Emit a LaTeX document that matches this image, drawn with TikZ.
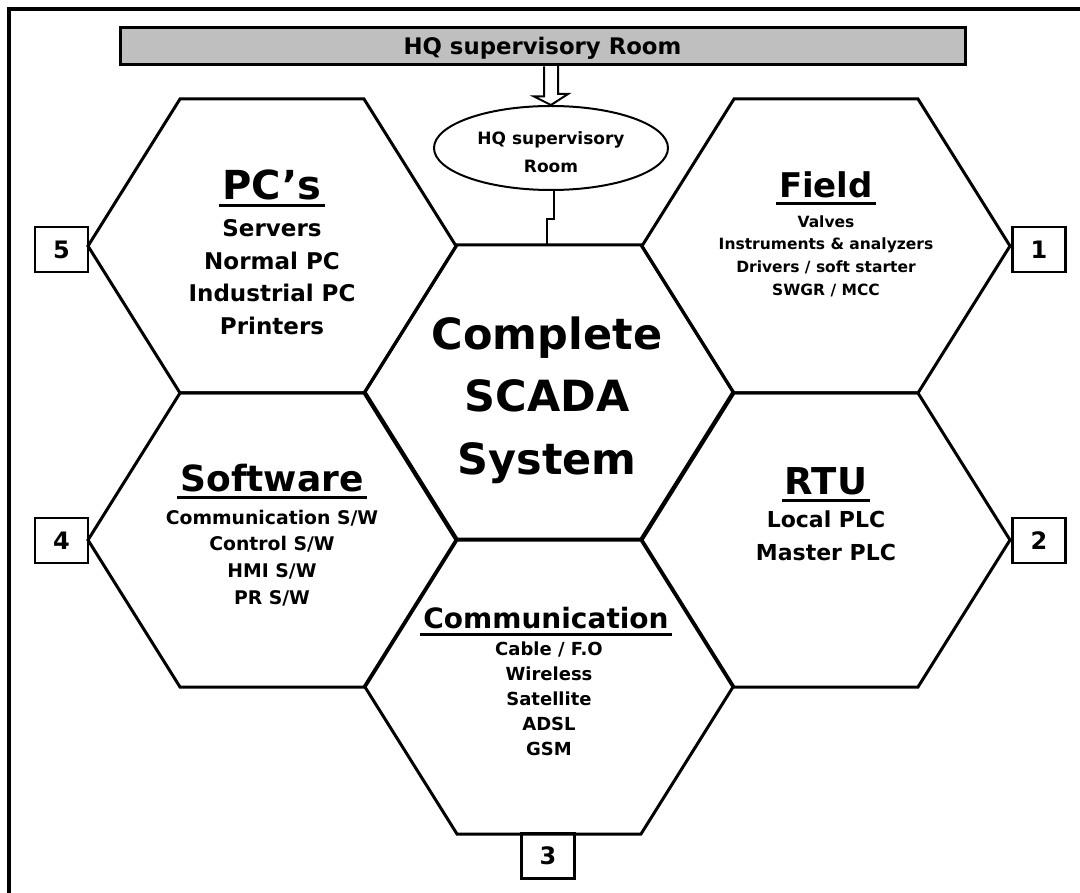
\documentclass[tikz,border=0pt]{standalone}
\usepackage{fontspec}
\setmainfont{DejaVu Sans}
\usetikzlibrary{shapes.geometric,positioning,calc}

\tikzset{
    hexline/.style={line width=3pt, line join=miter},
    title/.style={font=\bfseries, inner xsep=3pt, inner ysep=0pt, anchor=base},
    items/.style={align=center, inner sep=0pt},
    numbox/.style={draw, line width=2.5pt, minimum width=53pt, minimum height=45pt, inner sep=0pt, font=\bfseries\fontsize{24}{24}\selectfont},
    wire/.style={line width=2pt},
}
% one cell of the honeycomb, around a named centre
\newcommand{\hexcell}[1]{%
    \draw[hexline] ($(#1)+(-184,0)$) -- ++(92,-147) -- ++(184,0) -- ++(92,147) -- ++(-92,147) -- ++(-184,0) -- cycle;}
% thick rule under a title node
\newcommand{\titlerule}[1]{%
    \draw[line width=3pt] ([yshift=-6pt]#1.base west) -- ([yshift=-6pt]#1.base east);}

\begin{document}
\begin{tikzpicture}[x=1pt, y=-1pt]
    \useasboundingbox (0,0) rectangle (1080,893);
    \draw[line width=4pt] (9,893) -- (9,9) -- (1080,9);

    \coordinate (pcs) at (272,246);
    \coordinate (field) at (826,246);
    \coordinate (core) at (549,392);
    \coordinate (soft) at (272,540);
    \coordinate (rtu) at (826,540);
    \coordinate (comm) at (549,687);
    \foreach \c in {pcs,field,core,soft,rtu,comm} {\hexcell{\c}}

    \node[draw, line width=3pt, fill=black!25, minimum width=845pt, minimum height=37pt, inner sep=0pt,
          text height=16pt, text depth=0pt,
          font=\bfseries\fontsize{22.8}{24}\selectfont] (bar) at (542.5,46.5) {HQ supervisory Room};
    \node[ellipse, draw, line width=2pt, minimum width=234pt, minimum height=84pt, inner sep=0pt, align=center,
          text height=49pt, font=\bfseries\fontsize{17}{28}\selectfont] (hq) at (551,148) {HQ supervisory\\Room};

    % hollow arrow down from the bar
    \coordinate (tip) at (hq.north);
    \draw[wire, line join=miter] ($(tip |- bar.south)+(-7,0)$) -- ++(0,30) -- ++(-10,0) -- (tip) -- ++(17,-11) -- ++(-10,0) -- ++(0,-30);

    \coordinate (ctop) at (547,245);
    \draw[wire] ([xshift=3pt]hq.south) -- ++(0,28) -| (ctop);

    \node[title] (pctitle) at (272,200) {\fontsize{40}{40}\selectfont PC’s};
    \titlerule{pctitle}
    \node[items, font=\bfseries\fontsize{23}{32.7}\selectfont] (pclist) at (272,277) {Servers\\Normal PC\\Industrial PC\\Printers};

    \node[title] (fieldtitle) at (826,198) {\fontsize{34}{40}\selectfont Field};
    \titlerule{fieldtitle}
    \node[items, font=\bfseries\fontsize{15.5}{22.7}\selectfont] (fieldlist) at (826,256) {Valves\\Instruments \& analyzers\\Drivers / soft starter\\SWGR / MCC};

    \node[items, font=\bfseries\fontsize{43}{62.5}\selectfont] (corename) at (547,400) {Complete\\SCADA\\System};

    \node[title] (softtitle) at (272,491) {\fontsize{36}{40}\selectfont Software};
    \titlerule{softtitle}
    \node[items, font=\bfseries\fontsize{18.8}{26.7}\selectfont] (softlist) at (272,558) {Communication S/W\\Control S/W\\HMI S/W\\PR S/W};

    \node[title] (rtutitle) at (826,494) {\fontsize{37}{40}\selectfont RTU};
    \titlerule{rtutitle}
    \node[items, font=\bfseries\fontsize{22}{33}\selectfont] (rtulist) at (826,536) {Local PLC\\Master PLC};

    \node[title] (commtitle) at (546,628) {\fontsize{28}{30}\selectfont Communication};
    \titlerule{commtitle}
    \node[items, font=\bfseries\fontsize{18}{25}\selectfont] (commlist) at (549,699) {Cable / F.O\\Wireless\\Satellite\\ADSL\\GSM};

    \node[numbox] (n1) at (1039,249.5) {1};
    \node[numbox] (n2) at (1039,540.5) {2};
    \node[numbox] (n3) at (548,856) {3};
    \node[numbox] (n4) at (61.5,540.5) {4};
    \node[numbox] (n5) at (61.5,249.5) {5};
\end{tikzpicture}
\end{document}
